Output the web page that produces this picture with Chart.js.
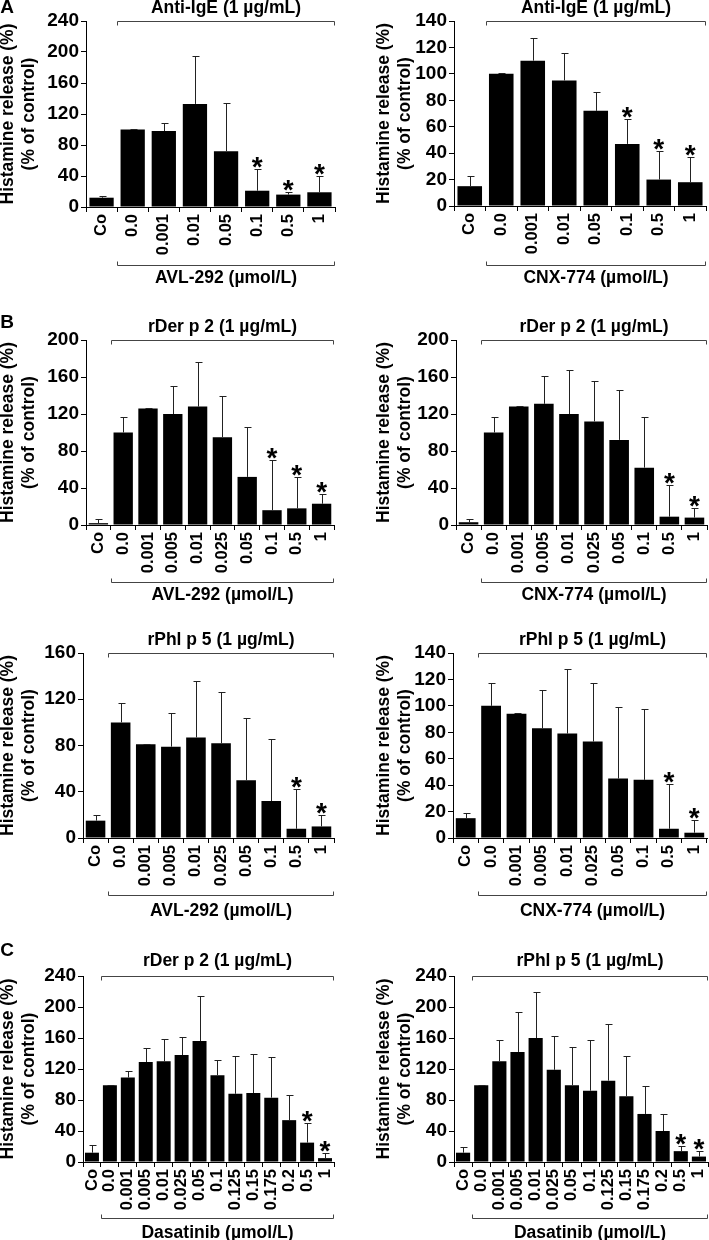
<!DOCTYPE html>
<html><head><meta charset="utf-8">
<script src="https://cdn.jsdelivr.net/npm/chart.js@4.4.1/dist/chart.umd.min.js"></script>
<style>
html,body{margin:0;padding:0;background:#fff;}
#wrap{position:relative;width:709px;height:1240px;overflow:hidden;background:#fff;}
canvas{position:absolute;}
</style></head><body><div id="wrap"></div>
<script>
// ---- categories (tick labels) ----
const catsA = ['Co','0.0','0.001','0.01','0.05','0.1','0.5','1'];
const catsB = ['Co','0.0','0.001','0.005','0.01','0.025','0.05','0.1','0.5','1'];
const catsC = ['Co','0.0','0.001','0.005','0.01','0.025','0.05','0.1','0.125','0.15','0.175','0.2','0.5','1'];

// ---- y tick values ----
const yTicks240 = [0,40,80,120,160,200,240];
const yTicks200 = [0,40,80,120,160,200];
const yTicks160 = [0,20,40,60,80,100,120,140,160];
const yTicks140 = [0,20,40,60,80,100,120,140];

// ---- A: anti-IgE ----
const aAvlMean = [12, 100, 98, 133, 72, 21, 16, 19];
const aAvlSd   = [2, 0.5, 11, 62, 62, 28, 4, 21];
const aAvlSig  = [0,0,0,0,0,1,1,1];
const aCnxMean = [15, 100, 110, 95, 72, 47, 20, 18];
const aCnxSd   = [8, 0.5, 17, 21, 14, 19, 22, 19];
const aCnxSig  = [0,0,0,0,0,1,1,1];

// ---- B: rDer p 2 ----
const bDerAvlMean = [2, 100, 126, 120, 128, 95, 52, 16, 18, 23];
const bDerAvlSd   = [5, 17, 0.5, 30, 48, 44, 54, 54, 34, 10];
const bDerAvlSig  = [0,0,0,0,0,0,0,1,1,1];
const bDerCnxMean = [3, 100, 128, 131, 120, 112, 92, 62, 9, 8];
const bDerCnxSd   = [4, 17, 0.5, 30, 48, 44, 54, 55, 34, 10];
const bDerCnxSig  = [0,0,0,0,0,0,0,0,1,1];

// ---- B: rPhl p 5 ----
const bPhlAvlMean = [15, 100, 81, 79, 87, 82, 50, 32, 8, 10];
const bPhlAvlSd   = [5, 17, 0.5, 29, 49, 44, 54, 54, 34, 10];
const bPhlAvlSig  = [0,0,0,0,0,0,0,0,1,1];
const bPhlCnxMean = [15, 100, 94, 83, 79, 73, 45, 44, 7, 4];
const bPhlCnxSd   = [4, 17, 0.5, 29, 49, 44, 54, 54, 34, 10];
const bPhlCnxSig  = [0,0,0,0,0,0,0,0,1,1];

// ---- C: Dasatinib ----
const cDerMean = [12, 99, 109, 129, 130, 138, 156, 112, 88, 89, 83, 54, 25, 5];
const cDerSd   = [10, 0.5, 9, 18, 29, 23, 58, 20, 49, 50, 52, 33, 25, 7];
const cDerSig  = [0,0,0,0,0,0,0,0,0,0,0,0,1,1];
const cPhlMean = [12, 99, 130, 142, 160, 119, 99, 92, 105, 85, 62, 40, 14, 7];
const cPhlSd   = [8, 0.5, 27, 51, 59, 44, 49, 66, 73, 52, 36, 22, 7, 7];
const cPhlSig  = [0,0,0,0,0,0,0,0,0,0,0,0,1,1];

// ---- texts ----
const yTitle = ['Histamine release (%)', '(% of control)'];
const tAntiIgE = 'Anti-IgE (1 \u00b5g/mL)';
const tDer = 'rDer p 2 (1 \u00b5g/mL)';
const tPhl = 'rPhl p 5 (1 \u00b5g/mL)';
const dAvl = 'AVL-292 (\u00b5mol/L)';
const dCnx = 'CNX-774 (\u00b5mol/L)';
const dDas = 'Dasatinib (\u00b5mol/L)';

const FONT = '"Liberation Sans", Arial, Helvetica, sans-serif';
Chart.defaults.font.family = FONT;
Chart.defaults.color = '#000';

const panels = [
  {cats:catsA, mean:aAvlMean, sd:aAvlSd, sig:aAvlSig, ticks:yTicks240, title:tAntiIgE, drug:dAvl, letter:'A',
   box:[0,0,354,290], axisX:86, top:21, bottom:207, right:335, tpad:-2, tGap:13, bb:58, bt:13, letterPos:[7,8]},
  {cats:catsA, mean:aCnxMean, sd:aCnxSd, sig:aCnxSig, ticks:yTicks140, title:tAntiIgE, drug:dCnx,
   box:[354,0,355,290], axisX:454, top:21, bottom:206, right:706, tpad:20, tGap:13, bb:59, bt:13},
  {cats:catsB, mean:bDerAvlMean, sd:bDerAvlSd, sig:bDerAvlSig, ticks:yTicks200, title:tDer, drug:dAvl, letter:'B',
   box:[0,300,354,305], axisX:86, top:340, bottom:525, right:334, tpad:-2, tGap:13, bb:57, bt:13, letterPos:[7,23]},
  {cats:catsB, mean:bDerCnxMean, sd:bDerCnxSd, sig:bDerCnxSig, ticks:yTicks200, title:tDer, drug:dCnx,
   box:[354,300,355,305], axisX:456, top:340, bottom:525, right:707, tpad:20, tGap:13, bb:57, bt:13},
  {cats:catsB, mean:bPhlAvlMean, sd:bPhlAvlSd, sig:bPhlAvlSig, ticks:yTicks160, title:tPhl, drug:dAvl,
   box:[0,615,354,305], axisX:83, top:653, bottom:838, right:334, tpad:-2, tGap:13, bb:57, bt:16},
  {cats:catsB, mean:bPhlCnxMean, sd:bPhlCnxSd, sig:bPhlCnxSig, ticks:yTicks140, title:tPhl, drug:dCnx,
   box:[354,615,355,305], axisX:453, top:653, bottom:838, right:707, tpad:20, tGap:13, bb:57, bt:16},
  {cats:catsC, mean:cDerMean, sd:cDerSd, sig:cDerSig, ticks:yTicks240, title:tDer, drug:dDas, letter:'C',
   box:[0,930,354,310], axisX:83, top:976, bottom:1162, right:334, tpad:-2, tGap:15, bb:56, bt:15, letterPos:[7,21]},
  {cats:catsC, mean:cPhlMean, sd:cPhlSd, sig:cPhlSig, ticks:yTicks240, title:tPhl, drug:dDas,
   box:[354,930,355,310], axisX:454, top:976, bottom:1162, right:708, tpad:20, tGap:15, bb:56, bt:15}
];

function makeAnnot(p, idx){
  return {
    id: 'annot' + idx,
    afterDatasetsDraw(chart){
      const ctx = chart.ctx, xs = chart.scales.x, ys = chart.scales.y, area = chart.chartArea;
      const meta = chart.getDatasetMeta(0);
      ctx.save();
      // error bars (upper only)
      ctx.strokeStyle = '#222'; ctx.lineWidth = 1;
      meta.data.forEach((bar, i) => {
        const sd = p.sd[i];
        if (!(sd > 0)) return;
        const x = Math.round(bar.x) + 0.5;
        const y1 = Math.round(ys.getPixelForValue(p.mean[i] + sd)) + 0.5;
        ctx.beginPath();
        ctx.moveTo(x, bar.y); ctx.lineTo(x, y1);
        ctx.moveTo(x - 3, y1); ctx.lineTo(x + 4, y1);
        ctx.stroke();
      });
      // asterisks
      ctx.fillStyle = '#000';
      ctx.font = 'bold 28px ' + FONT;
      ctx.textAlign = 'center'; ctx.textBaseline = 'alphabetic';
      meta.data.forEach((bar, i) => {
        if (!p.sig[i]) return;
        const y1 = ys.getPixelForValue(p.mean[i] + p.sd[i]);
        ctx.fillText('*', bar.x, y1 + 7);
      });
      // top bracket
      const x1 = Math.round((xs.getPixelForValue(0) + xs.getPixelForValue(1)) / 2) + 0.5;
      const x2 = Math.round(area.right) - 0.5;
      ctx.strokeStyle = '#444'; ctx.lineWidth = 1;
      const yt = Math.round(area.top) + 0.5;
      ctx.beginPath();
      ctx.moveTo(x1, yt + 4); ctx.lineTo(x1, yt); ctx.lineTo(x2, yt); ctx.lineTo(x2, yt + 4);
      ctx.stroke();
      ctx.font = 'bold 17.5px ' + FONT;
      ctx.textBaseline = 'middle';
      ctx.fillText(p.title, (x1 + x2) / 2, area.top - p.tGap);
      // bottom bracket
      const yb = Math.round(area.bottom + p.bb) + 0.5;
      ctx.beginPath();
      ctx.moveTo(x1, yb - 4); ctx.lineTo(x1, yb); ctx.lineTo(x2, yb); ctx.lineTo(x2, yb - 4);
      ctx.stroke();
      ctx.fillText(p.drug, (x1 + x2) / 2, yb + p.bt);
      // panel letter
      if (p.letter) {
        ctx.font = 'bold 19px ' + FONT;
        ctx.fillText(p.letter, p.letterPos[0], p.letterPos[1]);
      }
      ctx.restore();
    }
  };
}

const wrap = document.getElementById('wrap');
panels.forEach((p, idx) => {
  const [bl, bt, bw, bh] = p.box;
  const cv = document.createElement('canvas');
  cv.width = bw; cv.height = bh;
  cv.style.left = bl + 'px'; cv.style.top = bt + 'px';
  cv.style.width = bw + 'px'; cv.style.height = bh + 'px';
  wrap.appendChild(cv);
  const tk = p.ticks;
  new Chart(cv, {
    type: 'bar',
    data: { labels: p.cats, datasets: [{ data: p.mean, backgroundColor: '#000', borderWidth: 0,
      barPercentage: 0.78, categoryPercentage: 1 }] },
    options: {
      responsive: false, animation: false, devicePixelRatio: 1,
      layout: { padding: { left: 0, top: p.top - bt, right: bl + bw - p.right, bottom: 0 } },
      plugins: { legend: { display: false }, tooltip: { enabled: false } },
      scales: {
        x: {
          offset: true,
          grid: { display: true, drawOnChartArea: false, drawTicks: true, tickLength: 5, color: '#000', offset: true },
          border: { display: true, color: '#000', width: 1 },
          ticks: { autoSkip: false, minRotation: 90, maxRotation: 90, padding: 2, color: '#000',
                   font: { size: 16.5, weight: 'bold' } },
          afterFit: (s) => { s.height = bt + bh - p.bottom; s.paddingLeft = 0; s.paddingRight = 0; }
        },
        y: {
          min: tk[0], max: tk[tk.length - 1],
          afterBuildTicks: (s) => { s.ticks = tk.map(v => ({ value: v })); },
          grid: { display: true, drawOnChartArea: false, drawTicks: true, tickLength: 5, color: '#000' },
          border: { display: true, color: '#000', width: 1 },
          ticks: { padding: 2, color: '#000', font: { size: 19, weight: 'bold' } },
          title: { display: true, text: yTitle, color: '#000',
                   font: { size: 17.5, weight: 'bold', lineHeight: 1.2 },
                   padding: { top: p.tpad, bottom: 0 } },
          afterFit: (s) => { s.width = p.axisX - bl; s.paddingTop = 0; s.paddingBottom = 0; }
        }
      }
    },
    plugins: [makeAnnot(p, idx)]
  });
});
</script>
</body></html>
